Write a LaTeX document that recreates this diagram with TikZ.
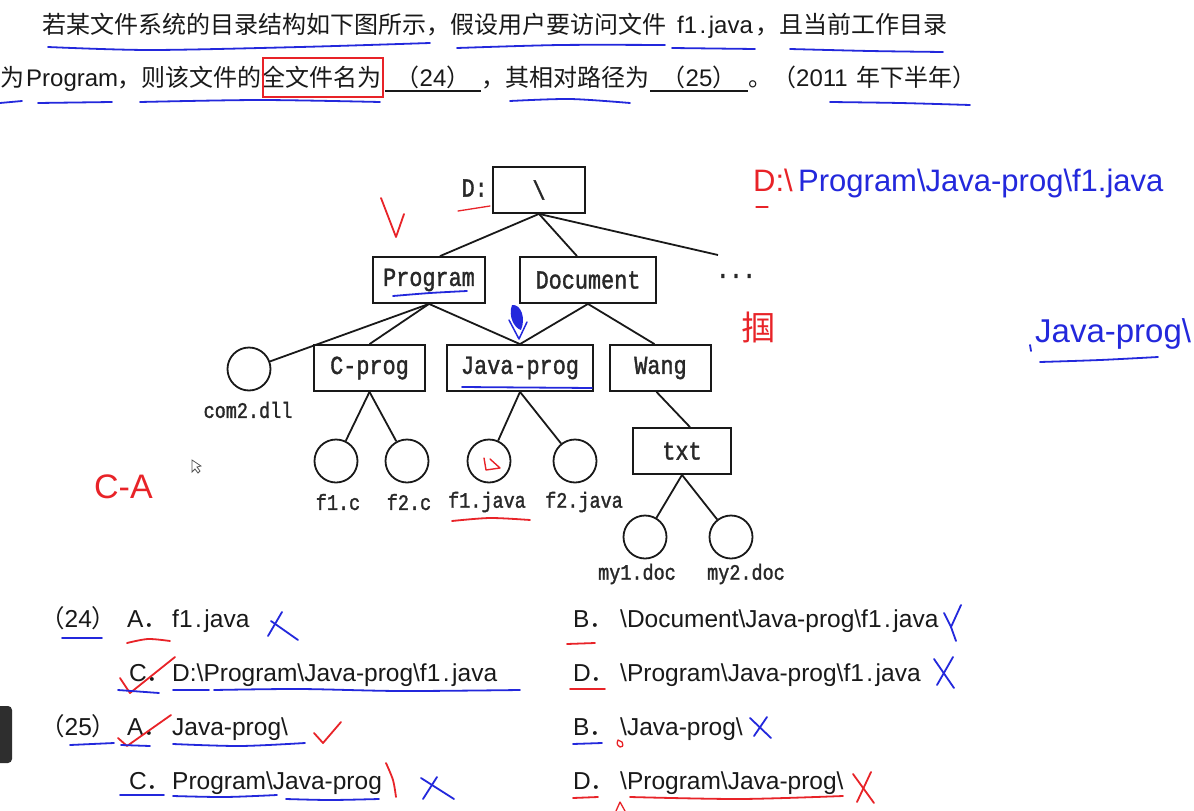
\documentclass[tikz,border=0pt]{standalone}
\usepackage{fontspec}
\usepackage{graphicx}
\setmainfont{Liberation Sans}
\newfontfamily\cjk{Noto Sans CJK SC}
\newfontfamily\mono[FakeBold=1.6]{Liberation Mono}
\definecolor{hblue}{RGB}{35,40,220}
\definecolor{hred}{RGB}{232,35,40}
\definecolor{ink}{RGB}{25,25,25}
\definecolor{tink}{RGB}{40,40,40}
\newcommand{\narrowtxt}[1]{\scalebox{0.84}[1]{#1}}
\newcommand{\fj}{f1\kern2.5pt.\kern2.5pt java}
\begin{document}
\begin{tikzpicture}[x=1pt,y=-1pt,
  dirbox/.style={draw=ink, line width=1.8pt, minimum height=46pt, inner sep=0pt, font=\mono\fontsize{26}{30}\selectfont, text=tink},
  filec/.style={circle, draw=ink, line width=1.8pt, minimum size=43pt, inner sep=0pt},
  flabel/.style={inner sep=0pt, font=\mono\fontsize{22}{26}\selectfont, text=tink},
  conn/.style={draw=ink, line width=1.8pt},
  qtext/.style={anchor=base west, inner sep=0pt, font=\fontsize{24}{28}\selectfont, text=ink},
  qcjk/.style={qtext, font=\cjk\fontsize{24}{28}\selectfont},
  otext/.style={anchor=base west, inner sep=0pt, font=\fontsize{24.5}{30}\selectfont, text=ink},
  hb/.style={draw=hblue, line width=1.8pt, line cap=round, line join=round},
  hr/.style={draw=hred, line width=1.8pt, line cap=round, line join=round},
  hbtext/.style={anchor=base west, inner sep=0pt, text=hblue, font=\fontsize{31}{36}\selectfont},
  hrtext/.style={anchor=base west, inner sep=0pt, text=hred, font=\fontsize{31}{36}\selectfont},
]
\useasboundingbox (0,0) rectangle (1194,811);
\fill[white] (0,0) rectangle (1194,811);

% ---------- question text ----------
\node[qcjk] (q1a) at (42,33) {若某文件系统的目录结构如下图所示，假设用户要访问文件};
\node[qtext] (q1b) at (677,33) {\fj};
\node[qcjk] (q1c) at (755,33) {，且当前工作目录};

\node[qcjk] (q2a) at (0,86) {为};
\node[qtext] (q2b) at (26,86) {Program};
\node[qcjk] (q2c) at (117,86) {，则该文件的全文件名为};
\node[qtext, anchor=base] (b24) at (433,86) {{\cjk （}24{\cjk ）}};
\node[qcjk] (q2d) at (481,86) {，其相对路径为};
\node[qtext, anchor=base] (b25) at (699,86) {{\cjk （}25{\cjk ）}};
\node[qcjk] (q2e) at (748,86) {。（};
\node[qtext] (q2f) at (796,86) {2011};
\node[qcjk] (q2g) at (856,86) {年下半年）};
\draw[ink, line width=1.3pt] (385,91) -- (481,91);
\draw[ink, line width=1.3pt] (650,91) -- (748,91);

% ---------- tree ----------
\node[dirbox, minimum width=92pt] (root) at (539,190) {\narrowtxt{\textbackslash}};
\node[inner sep=0pt, font=\mono\fontsize{26}{30}\selectfont, text=tink, anchor=east] (dlab) at (488,188) {\narrowtxt{D:}};
\node[dirbox, minimum width=112pt] (prog) at (429,280) {\narrowtxt{Program}};
\node[dirbox, minimum width=136pt] (doc) at (588,280) {\narrowtxt{Document}};
\node[inner sep=0pt, font=\mono\fontsize{26}{30}\selectfont, text=tink] (dots) at (736,276) {\narrowtxt{...}};
\coordinate (more) at (718,255);
\node[dirbox, minimum width=111pt] (cprog) at (369.5,368) {\narrowtxt{C-prog}};
\node[dirbox, minimum width=146pt] (jprog) at (520,368) {\narrowtxt{Java-prog}};
\node[dirbox, minimum width=101pt] (wang) at (660.5,368) {\narrowtxt{Wang}};
\node[dirbox, minimum width=98pt] (txt) at (682,451) {\narrowtxt{txt}};

\node[filec] (com) at (249,369) {};
\node[filec] (f1c) at (336,461) {};
\node[filec] (f2c) at (407,461) {};
\node[filec] (f1j) at (489,461) {};
\node[filec] (f2j) at (575,461) {};
\node[filec] (my1) at (645,537) {};
\node[filec] (my2) at (731,537) {};

\node[flabel] (lcom) at (248,410) {\narrowtxt{com2.dll}};
\node[flabel] (lf1c) at (338,502) {\narrowtxt{f1.c}};
\node[flabel] (lf2c) at (409,502) {\narrowtxt{f2.c}};
\node[flabel] (lf1j) at (487,502) {\narrowtxt{f1.java}};
\node[flabel] (lf2j) at (584,502) {\narrowtxt{f2.java}};
\node[flabel] (lmy1) at (637,574) {\narrowtxt{my1.doc}};
\node[flabel] (lmy2) at (746,574) {\narrowtxt{my2.doc}};

\draw[conn] (root.south) -- ([xshift=11pt]prog.north);
\draw[conn] (root.south) -- ([xshift=-11pt]doc.north);
\draw[conn] (root.south) -- (more);
\draw[conn] (prog.south) -- (com);
\draw[conn] (prog.south) -- (cprog.north);
\draw[conn] (prog.south) -- (jprog.north);
\draw[conn] (doc.south) -- (jprog.north);
\draw[conn] (doc.south) -- ([xshift=-6pt]wang.north);
\draw[conn] (cprog.south) -- (f1c);
\draw[conn] (cprog.south) -- (f2c);
\draw[conn] (jprog.south) -- (f1j);
\draw[conn] (jprog.south) -- (f2j);
\draw[conn] ([xshift=-4pt]wang.south) -- ([xshift=8pt]txt.north);
\draw[conn] (txt.south) -- (my1);
\draw[conn] (txt.south) -- (my2);

% ---------- options ----------
\node[otext] (o24) at (40,627) {{\cjk （}24{\cjk ）}};
\node[otext] (oA1) at (127,627) {A{\cjk ．}};
\node[otext] (tA1) at (172,627) {\fj};
\node[otext] (oB1) at (573,627) {B{\cjk ．}};
\node[otext] (tB1) at (620,627) {\textbackslash Document\textbackslash Java-prog\textbackslash \fj};
\node[otext] (oC1) at (129,681) {C{\cjk ．}};
\node[otext] (tC1) at (172,681) {D:\textbackslash Program\textbackslash Java-prog\textbackslash \fj};
\node[otext] (oD1) at (573,681) {D{\cjk ．}};
\node[otext] (tD1) at (620,681) {\textbackslash Program\textbackslash Java-prog\textbackslash \fj};
\node[otext] (o25) at (40,735) {{\cjk （}25{\cjk ）}};
\node[otext] (oA2) at (127,735) {A{\cjk ．}};
\node[otext] (tA2) at (172,735) {Java-prog\textbackslash};
\node[otext] (oB2) at (573,735) {B{\cjk ．}};
\node[otext] (tB2) at (620,735) {\textbackslash Java-prog\textbackslash};
\node[otext] (oC2) at (129,789) {C{\cjk ．}};
\node[otext] (tC2) at (172,789) {Program\textbackslash Java-prog};
\node[otext] (oD2) at (573,789) {D{\cjk ．}};
\node[otext] (tD2) at (620,789) {\textbackslash Program\textbackslash Java-prog\textbackslash};

% side UI tab
\fill[black!82, rounded corners=4pt] (-6,706) rectangle (12,763);

% ---------- handwriting: question ----------
\draw[hb] plot[smooth] coordinates {(48,47) (150,50) (300,47) (430,43)};
\draw[hb] plot[smooth] coordinates {(457,48) (560,45) (665,45)};
\draw[hb] (672,48) -- (755,49);
\draw[hb] plot[smooth] coordinates {(790,49) (870,51) (943,52)};
\draw[hb] (0,103) -- (22,101);
\draw[hb] (38,103) -- (112,102);
\draw[hb] plot[smooth] coordinates {(140,102) (260,100) (380,102)};
\draw[hb] plot[smooth] coordinates {(510,101) (570,99) (630,103)};
\draw[hb] plot[smooth] coordinates {(830,102) (900,103) (970,105)};
\draw[hred, line width=1.2pt] (263,58) rectangle (383,97);

% ---------- handwriting: tree ----------
\draw[hr] (381,198) -- (396,237) -- (404,214);
\draw[hr, line width=1.3pt] (458,211) -- (490,206);
\draw[hb] plot[smooth] coordinates {(393,296) (430,293) (467,291)};
\fill[hblue] (512,305) .. controls (521,304) and (526,318) .. (521,330) .. controls (514,328) and (508,316) .. cycle;
\draw[hb, line width=1.5pt] (509,320) -- (519,339) -- (527,322);
\draw[hb] (462,387) -- (592,388);
\draw[hr, line width=1.4pt] (484,458) -- (486,470) -- (500,468) -- (490,459);
\draw[hr] plot[smooth] coordinates {(452,521) (490,518) (530,520)};
\node[hrtext, font=\fontsize{34}{40}\selectfont] (hca) at (94,498) {C-A};
\draw[ink!75, line width=0.8pt, fill=white] (192,460) -- (192,472) -- (195,469) -- (198,473) -- (200,471) -- (197,467) -- (201,466) -- cycle;

% ---------- handwriting: right ----------
\node[hrtext] (hd) at (753,191) {D:\textbackslash};
\node[hbtext] (hpath) at (798,191) {Program\textbackslash Java-prog\textbackslash f1.java};
\draw[hr, line width=1.2pt] (756,207) -- (768,207);
\node[hrtext, anchor=center, font=\cjk\fontsize{34}{40}\selectfont] (hz) at (758,327) {掴};
\node[hbtext, font=\fontsize{33}{38}\selectfont] (hj) at (1035,342) {Java-prog\textbackslash};
\draw[hb] (1030,345) -- (1031,351);
\draw[hb] plot[smooth] coordinates {(1040,362) (1100,360) (1158,357)};

% ---------- handwriting: options ----------
\draw[hb] (62,638) -- (102,638);
\draw[hr] plot[smooth] coordinates {(127,643) (148,639) (170,641)};
\draw[hb] (268,636) -- (282,612);
\draw[hb] (271,621) -- (298,640);
\draw[hr] (120,678) -- (130,693) -- (175,657);
\draw[hb] (118,690) -- (159,693);
\draw[hb] (173,690) -- (209,690);
\draw[hb] plot[smooth] coordinates {(214,690) (300,689) (400,691) (520,690)};
\draw[hb] (70,745) -- (114,743);
\draw[hr] (118,738) -- (127,746) -- (171,715);
\draw[hb] (121,745) -- (150,746);
\draw[hb] plot[smooth] coordinates {(173,744) (240,746) (305,743)};
\draw[hr] (314,733) -- (323,743) -- (341,722);
\draw[hr] plot[smooth] coordinates {(386,763) (393,780) (396,797)};
\draw[hb] (421,778) -- (454,799);
\draw[hb] (423,799) -- (437,777);
\draw[hb] (120,795) -- (164,795);
\draw[hb] plot[smooth] coordinates {(173,796) (225,797) (277,795)};
\draw[hb] plot[smooth] coordinates {(286,799) (330,800) (379,799)};

\draw[hr] (567,644) -- (595,643);
\draw[hb] (944,613) -- (951,627) -- (961,605);
\draw[hb] (951,627) -- (956,641);
\draw[hr] (570,689) -- (605,689);
\draw[hb] (934,659) -- (954,688);
\draw[hb] (953,657) -- (937,685);
\draw[hb] (573,744) -- (602,743);
\draw[hr, line width=1.3pt] (618,740) .. controls (614,748) and (626,750) .. (622,742) -- (618,740);
\draw[hb] (750,718) -- (771,738);
\draw[hb] (767,717) -- (754,736);
\draw[hr] (573,798) -- (598,797);
\draw[hr] plot[smooth] coordinates {(630,797) (740,799) (843,796)};
\draw[hr] (853,774) -- (874,803);
\draw[hr] (871,772) -- (857,802);
\draw[hr, line width=1.3pt] (616,811) -- (620,802) -- (625,811);
\end{tikzpicture}
\end{document}
